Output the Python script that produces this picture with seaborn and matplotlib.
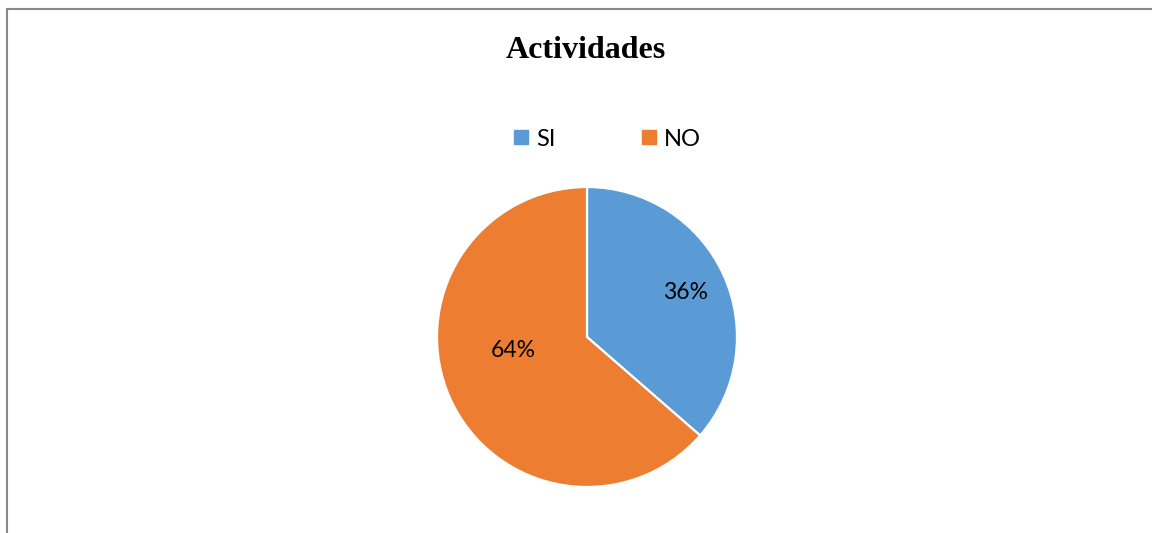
import matplotlib
matplotlib.use("Agg")
import matplotlib.pyplot as plt
from matplotlib.lines import Line2D
import seaborn as sns

# Data
categories = ["SI", "NO"]
values = [36.4, 63.6]
colors = ["#5B9BD5", "#ED7D31"]
title = "Actividades"

sns.set_theme(style="white")
plt.rcParams['font.family'] = ['Lato', 'DejaVu Sans']
plt.rcParams['text.color'] = 'black'

W, H = 1152, 533
fig = plt.figure(figsize=(W / 100, H / 100), dpi=100)
fig.patch.set_facecolor("white")

# pie axes: center (587,337), radius 150 px
cx, cy, r = 587, 337, 150
ax = fig.add_axes([(cx - r) / W, (H - cy - r) / H, 2 * r / W, 2 * r / H])
wedges, texts, autotexts = ax.pie(
    values, colors=colors, startangle=90, counterclock=False,
    autopct=lambda p: f"{p:.0f}%", pctdistance=0.72,
    wedgeprops=dict(edgecolor="white", linewidth=1.6),
    textprops=dict(fontsize=16.5, color="black"))
ax.set_xlim(-1, 1)
ax.set_ylim(-1, 1)
ax.set_aspect("equal")
ax.axis("off")
# best-fit style placement of the larger label
autotexts[1].set_position((-0.49, -0.09))

# title
fig.text(586 / W, 1 - 50 / H, title, ha="center", va="center", color="black",
         fontsize=23, fontweight="bold", family=["Liberation Serif", "DejaVu Serif"])

# legend
handles = [Line2D([], [], marker="s", linestyle="none", markersize=10,
                  markerfacecolor=c, markeredgecolor=c) for c in colors]
fig.legend(handles, categories, loc="center", bbox_to_anchor=(607 / W, 1 - 139 / H),
           ncol=2, frameon=False, fontsize=17, handlelength=0.7, handletextpad=0.3,
           columnspacing=3.6, labelcolor="black")

# border
bc = "#888888"
fig.add_artist(Line2D([7 / W, 1], [1 - 9 / H, 1 - 9 / H], color=bc, linewidth=1.5,
                      transform=fig.transFigure))
fig.add_artist(Line2D([7 / W, 7 / W], [1 - 9 / H, 0], color=bc, linewidth=1.5,
                      transform=fig.transFigure))

fig.savefig("out.png", dpi=100, facecolor="white")
